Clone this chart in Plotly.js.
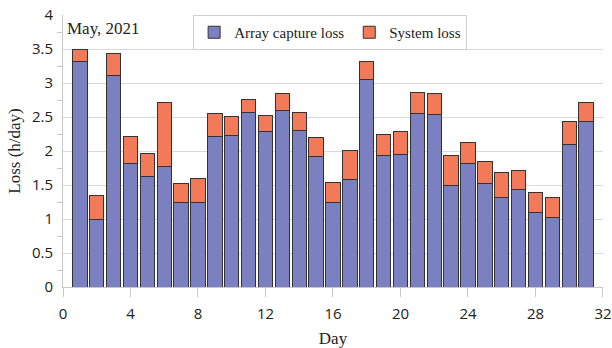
<!DOCTYPE html>
<html>
<head>
<meta charset="utf-8">
<script src="https://cdn.plot.ly/plotly-3.0.1.min.js"></script>
<style>
  html, body { margin: 0; padding: 0; background: #fff; }
  #chart { width: 612px; height: 348px; }
</style>
</head>
<body>
<div id="chart"></div>
<script>
// Daily losses for May 2021 (h/day)
const days = [1,2,3,4,5,6,7,8,9,10,11,12,13,14,15,16,17,18,19,20,21,22,23,24,25,26,27,28,29,30,31];
const arrayCaptureLoss = [3.32,0.99,3.11,1.81,1.63,1.77,1.24,1.24,2.22,2.23,2.57,2.29,2.60,2.30,1.92,1.25,1.58,3.05,1.93,1.95,2.55,2.53,1.49,1.81,1.52,1.32,1.43,1.09,1.02,2.09,2.44];
const systemLoss = [0.18,0.36,0.33,0.40,0.33,0.95,0.28,0.35,0.33,0.28,0.19,0.23,0.24,0.26,0.28,0.29,0.43,0.27,0.32,0.34,0.31,0.31,0.44,0.31,0.32,0.37,0.29,0.30,0.29,0.34,0.27];
const xTicks = [0,4,8,12,16,20,24,28,32];

const serif = '"Liberation Serif", "Times New Roman", serif';
const sans = '"Open Sans", "Noto Sans", sans-serif';

const traces = [
  {
    type: 'bar', name: 'Array capture loss', x: days, y: arrayCaptureLoss,
    width: 0.85,
    marker: { color: '#7b80c0', line: { color: '#333333', width: 1 } }
  },
  {
    type: 'bar', name: 'System loss', x: days, y: systemLoss,
    width: 0.85,
    marker: { color: '#f37a58', line: { color: '#333333', width: 1 } }
  }
];

const layout = {
  width: 612, height: 348,
  margin: { l: 63, r: 9, t: 15, b: 61 },
  paper_bgcolor: '#ffffff', plot_bgcolor: '#ffffff',
  barmode: 'stack',
  showlegend: true,
  legend: {
    orientation: 'h', traceorder: 'normal',
    x: 0.241, xanchor: 'left', y: 1, yanchor: 'top',
    bgcolor: '#ffffff', bordercolor: '#cfcfcf', borderwidth: 1,
    font: { family: serif, size: 15, color: '#222' },
    itemwidth: 30
  },
  xaxis: {
    range: [0, 32.002], tickvals: xTicks, ticktext: xTicks.map(String),
    ticks: 'outside', ticklen: 9, tickcolor: '#c8c8c8', tickwidth: 1,
    showline: true, linecolor: '#c8c8c8', linewidth: 1,
    showgrid: false, zeroline: false,
    tickfont: { family: sans, size: 15, color: '#222' },
    ticklabelstandoff: 4,
    title: { text: 'Day', font: { family: serif, size: 17, color: '#222' }, standoff: 10 },
    automargin: false
  },
  yaxis: {
    range: [0, 4], dtick: 0.5, tick0: 0,
    ticks: '', showline: true, linecolor: '#c8c8c8', linewidth: 1,
    showgrid: true, gridcolor: '#d9d9d9', gridwidth: 1, zeroline: false,
    minor: { dtick: 0.25, tick0: 0, ticks: 'outside', ticklen: 5, tickcolor: '#c8c8c8', showgrid: false },
    tickfont: { family: sans, size: 15, color: '#222' },
    ticklabelstandoff: 6,
    title: { text: 'Loss (h/day)', font: { family: serif, size: 17, color: '#222' }, standoff: 6 },
    automargin: false
  },
  annotations: [
    {
      text: 'May, 2021', xref: 'paper', yref: 'paper', x: 0, y: 1,
      xanchor: 'left', yanchor: 'top', xshift: 2, yshift: -2, showarrow: false,
      font: { family: serif, size: 17, color: '#222' }
    }
  ]
};

Plotly.newPlot('chart', traces, layout, { displayModeBar: false, staticPlot: true });
</script>
</body>
</html>
